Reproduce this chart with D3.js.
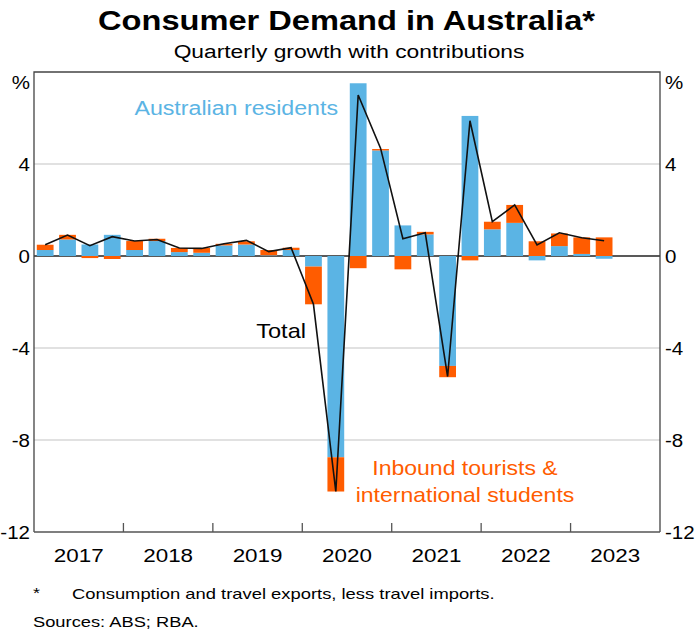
<!DOCTYPE html>
<html>
<head>
<meta charset="utf-8">
<script src="https://cdn.jsdelivr.net/npm/d3@7"></script>
<style>
  html, body { margin: 0; padding: 0; background: #fff; }
  svg { display: block; font-family: "Liberation Sans", Arial, sans-serif; }
</style>
</head>
<body>
<svg id="chart" width="699" height="630"></svg>
<script>
// ---- data ----
const quarters = ["2017Q1","2017Q2","2017Q3","2017Q4","2018Q1","2018Q2","2018Q3","2018Q4",
  "2019Q1","2019Q2","2019Q3","2019Q4","2020Q1","2020Q2","2020Q3","2020Q4",
  "2021Q1","2021Q2","2021Q3","2021Q4","2022Q1","2022Q2","2022Q3","2022Q4","2023Q1","2023Q2"];
const residents = [0.26,0.72,0.50,0.92,0.26,0.65,0.17,0.14,0.46,0.50,0.03,0.26,
  -0.46,-8.75,7.51,4.59,1.33,0.94,-4.78,6.09,1.16,1.44,-0.19,0.43,0.09,-0.12];
const tourists = [0.23,0.20,-0.09,-0.13,0.39,0.10,0.18,0.21,0.07,0.14,0.23,0.10,
  -1.64,-1.49,-0.53,0.06,-0.58,0.11,-0.49,-0.19,0.33,0.78,0.64,0.55,0.72,0.81];
const total = [0.49,0.91,0.45,0.84,0.65,0.72,0.35,0.33,0.53,0.68,0.19,0.36,
  -2.10,-10.24,7.00,4.69,0.75,1.01,-5.24,5.88,1.49,2.22,0.48,1.01,0.79,0.66];
const yTicks = [8,4,0,-4,-8,-12];
const yTickLabels = ["%","4","0","-4","-8","-12"];
const years = [2017,2018,2019,2020,2021,2022,2023];

// ---- layout ----
const svg = d3.select("#chart");
const L = 34, R = 660, T = 72, B = 532;
const blue = "#5bb4e4", orange = "#ff5c00";

const x = d3.scaleLinear().domain([2017, 2024]).range([L, R]);
const y = d3.scaleLinear().domain([-12, 8]).range([B, T]);
const qPos = q => { const yr = +q.slice(0,4), n = +q.slice(5); return yr + (n - 0.5) / 4; };
const barW = (x(2017.25) - x(2017)) * 0.75;

// text helper with horizontal stretch
function txt(g, px, py, s, opt) {
  const sx = opt.sx || 1;
  return g.append("text")
    .attr("transform", `translate(${px},${py}) scale(${sx},1)`)
    .attr("text-anchor", opt.anchor || "start")
    .attr("font-size", opt.size)
    .attr("font-weight", opt.bold ? "bold" : "normal")
    .attr("fill", opt.fill || "#000")
    .text(s);
}

// title
txt(svg, 346.5, 30, "Consumer Demand in Australia*", {size: 28, bold: true, anchor: "middle", sx: 1.165});
txt(svg, 349, 58, "Quarterly growth with contributions", {size: 19, anchor: "middle", sx: 1.2});

// gridlines
svg.append("g").selectAll("line").data(yTicks.filter(v => v !== 0 && v !== 8 && v !== -12)).join("line")
  .attr("x1", L).attr("x2", R).attr("y1", d => y(d)).attr("y2", d => y(d))
  .attr("stroke", "#c4c4c4").attr("stroke-width", 1.2);

// zero line (beneath bars)
svg.append("line").attr("x1", L).attr("x2", R).attr("y1", y(0)).attr("y2", y(0))
  .attr("stroke", "#222").attr("stroke-width", 1.3);

// stacked bars (diverging)
const rows = quarters.map((q, i) => ({q, r: residents[i], t: tourists[i]}));
const segs = [];
rows.forEach(d => {
  let pos = 0, neg = 0;
  [["r", blue], ["t", orange]].forEach(([k, c]) => {
    const v = d[k];
    if (v >= 0) { segs.push({q: d.q, y0: pos, y1: pos + v, c}); pos += v; }
    else { segs.push({q: d.q, y0: neg, y1: neg + v, c}); neg += v; }
  });
});
svg.append("g").selectAll("rect").data(segs).join("rect")
  .attr("x", d => x(qPos(d.q)) - barW / 2)
  .attr("width", barW)
  .attr("y", d => y(Math.max(d.y0, d.y1)))
  .attr("height", d => Math.abs(y(d.y0) - y(d.y1)))
  .attr("fill", d => d.c);

// total line
const line = d3.line().x((d, i) => x(qPos(quarters[i]))).y(d => y(d));
svg.append("path").datum(total).attr("d", line)
  .attr("fill", "none").attr("stroke", "#111").attr("stroke-width", 1.6)
  .attr("stroke-linejoin", "miter");

// frame
svg.append("path").attr("d", `M${L},${B}V${T}H${R}V${B}`)
  .attr("fill","none").attr("stroke","#444").attr("stroke-width",1.3);
svg.append("line").attr("x1", L).attr("x2", R).attr("y1", B).attr("y2", B)
  .attr("stroke","#555").attr("stroke-width",1.5);

// x ticks at year boundaries
svg.append("g").selectAll("line").data(d3.range(2018, 2024)).join("line")
  .attr("x1", d => x(d)).attr("x2", d => x(d)).attr("y1", B).attr("y2", B - 9)
  .attr("stroke", "#555").attr("stroke-width", 1.3);

// year labels
const gy = svg.append("g");
years.forEach(d => txt(gy, x(d + 0.5), 562, String(d), {size: 19, anchor: "middle", sx: 1.18}));

// y labels
const gl = svg.append("g");
yTicks.forEach((v, i) => {
  const py = v === 8 ? y(v) + 17 : y(v) + 7;
  txt(gl, 30, py, yTickLabels[i], {size: 19, anchor: "end", sx: 1.08});
  txt(gl, 665, py, yTickLabels[i], {size: 19, anchor: "start", sx: 1.08});
});

// annotations
const ga = svg.append("g");
txt(ga, 338, 115, "Australian residents", {size: 20, anchor: "end", fill: blue, sx: 1.16});
txt(ga, 306, 338, "Total", {size: 20, anchor: "end", sx: 1.18});
txt(ga, 465, 475, "Inbound tourists &", {size: 20, anchor: "middle", fill: orange, sx: 1.15});
txt(ga, 465, 502, "international students", {size: 20, anchor: "middle", fill: orange, sx: 1.15});

// footnotes
const gf = svg.append("g");
txt(gf, 33, 598, "*", {size: 15, sx: 1.2});
txt(gf, 72, 599, "Consumption and travel exports, less travel imports.", {size: 15, sx: 1.225});
txt(gf, 33, 627, "Sources: ABS; RBA.", {size: 15, sx: 1.22});
</script>
</body>
</html>
